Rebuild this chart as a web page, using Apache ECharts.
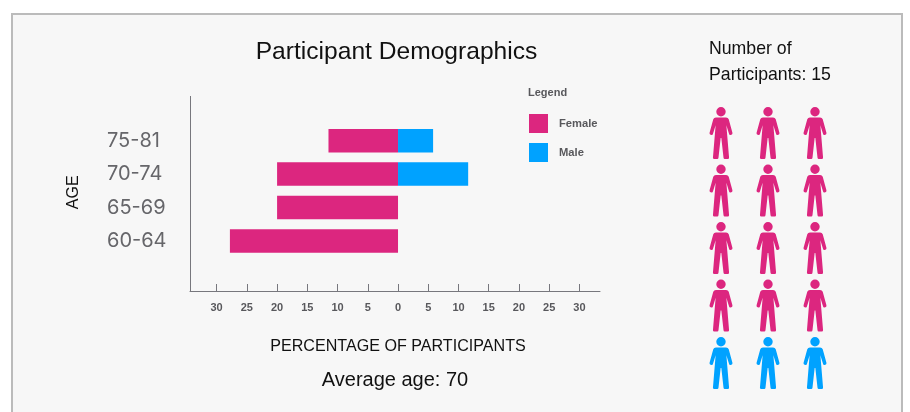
<!DOCTYPE html>
<html>
<head>
<meta charset="utf-8">
<style>html,body{margin:0;padding:0;background:#fff}#c{width:910px;height:412px}</style>
<script src="https://cdn.jsdelivr.net/npm/echarts@6/dist/echarts.min.js"></script>
</head>
<body>
<div id="c"></div>
<script>
const ageGroups = ['', '60-64', '65-69', '70-74', '75-81', ' '];
const femaleValues = [null, -27.8, -20, -20, -11.5, null];
const maleValues = [null, 0, 0, 11.6, 5.8, null];
const tickValues = [-30, -25, -20, -15, -10, -5, 0, 5, 10, 15, 20, 25, 30];
const femaleCount = 12;
const maleCount = 3;
const columns = [0, 1, 2];
const rows = [0, 1, 2, 3, 4];

const FEMALE = '#dc267f', MALE = '#00a2ff', AXIS = '#77777d', LABEL = '#58585c';
const SANS = '"Liberation Sans", Arial, sans-serif';
const person = 'path://M34 0a14 14 0 1 1-.01 0zM19 31L49 31Q55 31 57 36L68 76Q69 81 65 82L62 83Q59 84 58 80L50 54L58 150Q58 154 54 154L45 154Q42 154 41.5 150L35 92L33 92L26.5 150Q26 154 23 154L14 154Q10 154 10 150L18 54L10 80Q9 84 6 83L3 82Q-1 81 0 76L11 36Q13 31 19 31Z';

const people = [];
rows.forEach(r => columns.forEach(c => {
  const isFemale = people.length < femaleCount;
  people.push({ value: [c, r], itemStyle: { color: isFemale ? FEMALE : MALE, opacity: 1 } });
}));

const chart = echarts.init(document.getElementById('c'), null, { renderer: 'canvas' });
chart.setOption({
  animation: false,
  backgroundColor: '#fff',
  textStyle: { fontFamily: SANS },
  title: [
    { text: 'Participant Demographics', left: 396.5, top: 40, textAlign: 'center', padding: 0,
      textStyle: { fontSize: 24.6, fontWeight: 'normal', color: '#111', fontFamily: SANS } },
    { text: 'Legend', left: 528, top: 87, padding: 0,
      textStyle: { fontSize: 11, fontWeight: 'bold', color: LABEL, fontFamily: SANS } },
    { text: 'Number of\nParticipants: 15', left: 709, top: 36, padding: 0,
      textStyle: { fontSize: 17.7, fontWeight: 'normal', color: '#111', lineHeight: 26, fontFamily: SANS } },
    { text: 'Average age: 70', left: 395, top: 370, textAlign: 'center', padding: 0,
      textStyle: { fontSize: 20, fontWeight: 'normal', color: '#111', fontFamily: SANS } }
  ],
  legend: {
    left: 529, top: 114, padding: 0, orient: 'vertical', itemWidth: 19, itemHeight: 19, itemGap: 10,
    selectedMode: false, icon: 'rect', data: ['Female', 'Male'],
    itemStyle: { borderWidth: 0 },
    textStyle: { fontSize: 11.2, fontWeight: 'bold', color: LABEL, fontFamily: SANS, padding: [0, 0, 0, 6] }
  },
  grid: [
    { left: 190, top: 90.6, width: 410, height: 200.4 },
    { left: 721, top: 133, width: 94, height: 230 }
  ],
  xAxis: [
    { type: 'value', gridIndex: 0, min: -34.4, max: 33.4,
      splitLine: { show: false },
      axisLine: { show: true, lineStyle: { color: AXIS, width: 1 } },
      axisTick: { show: true, inside: true, length: 7, customValues: tickValues, lineStyle: { color: AXIS } },
      axisLabel: { customValues: tickValues, margin: 11, fontSize: 11, fontWeight: 'bold', color: LABEL,
        fontFamily: SANS, formatter: v => String(Math.abs(v)) },
      name: 'PERCENTAGE OF PARTICIPANTS', nameLocation: 'middle', nameGap: 48,
      nameTextStyle: { fontSize: 16.1, color: '#111', fontFamily: SANS, padding: [0, 0, 0, 6] } },
    { type: 'value', gridIndex: 1, min: 0, max: 2, show: false }
  ],
  yAxis: [
    { type: 'category', gridIndex: 0, data: ageGroups,
      axisLine: { show: false }, axisTick: { show: false }, splitLine: { show: false },
      axisLabel: { align: 'left', margin: 83, fontSize: 20, color: '#66666a', fontFamily: 'Inter, sans-serif', interval: 0 },
      name: 'AGE', nameLocation: 'middle', nameGap: 108,
      nameTextStyle: { fontSize: 16, color: '#111', fontFamily: SANS, padding: [0, 0, 0, -3] } },
    { type: 'value', gridIndex: 1, min: 0, max: 4, inverse: true, show: false }
  ],
  series: [
    { name: 'Female', type: 'bar', stack: 'total', data: femaleValues, barWidth: 23.5,
      itemStyle: { color: FEMALE }, xAxisIndex: 0, yAxisIndex: 0 },
    { name: 'Male', type: 'bar', stack: 'total', data: maleValues, barWidth: 23.5,
      itemStyle: { color: MALE }, xAxisIndex: 0, yAxisIndex: 0 },
    { name: 'People', type: 'scatter', xAxisIndex: 1, yAxisIndex: 1, data: people,
      symbol: person, symbolSize: [23, 52], silent: true }
  ],
  graphic: [
    { type: 'rect', z: -10, silent: true, shape: { x: 12, y: 14, width: 890, height: 500 },
      style: { fill: '#f7f7f7', stroke: '#bbbbbb', lineWidth: 2 } },
    { type: 'line', z: 1, silent: true, shape: { x1: 190.5, y1: 96, x2: 190.5, y2: 291 },
      style: { stroke: AXIS, lineWidth: 1 } }
  ]
});
</script>
</body>
</html>
